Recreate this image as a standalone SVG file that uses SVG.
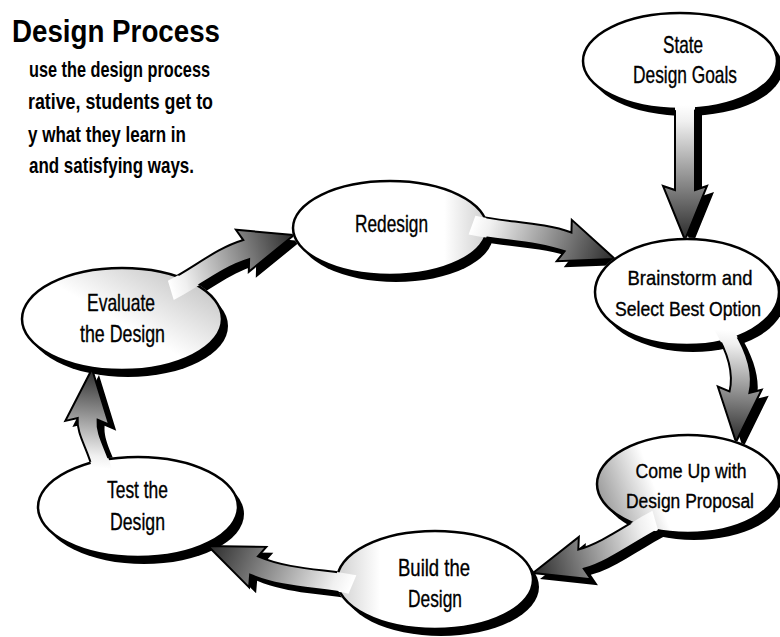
<svg xmlns="http://www.w3.org/2000/svg" xmlns:xlink="http://www.w3.org/1999/xlink" width="780" height="637" viewBox="0 0 780 637">
<style>
.title{font-family:"Liberation Sans Narrow","Liberation Sans",sans-serif;font-weight:bold;fill:#000}
.lbl{font-family:"Liberation Sans Narrow","Liberation Sans",sans-serif;font-size:24px;fill:#000;stroke:#000;stroke-width:0.35;text-anchor:middle}
.shadow{fill:#000}
.node{fill:#fff;stroke:#000;stroke-width:2.5}
.sh{fill:#000}
.ol{fill:none;stroke:#000;stroke-width:2;stroke-linejoin:miter}
</style>
<defs>
<linearGradient id="ag" x1="0" y1="0" x2="1" y2="0">
<stop offset="0" stop-color="#ffffff"/>
<stop offset="0.12" stop-color="#f0f0f0"/>
<stop offset="1" stop-color="#2a2a2a"/>
</linearGradient>
<linearGradient id="g-comeup" x1="0" y1="0.5" x2="1" y2="0.3">
<stop offset="0" stop-color="#a0a0a0"/>
<stop offset="0.3" stop-color="#ffffff"/>
</linearGradient>
<linearGradient id="g-build" x1="0" y1="0.5" x2="1" y2="0.5">
<stop offset="0" stop-color="#d0d0d0"/>
<stop offset="0.22" stop-color="#ffffff"/>
</linearGradient>
<linearGradient id="g-eval" x1="1" y1="0.2" x2="0.55" y2="0.6">
<stop offset="0" stop-color="#c4c4c4"/>
<stop offset="1" stop-color="#ffffff"/>
</linearGradient>
<linearGradient id="g-redesign" x1="1" y1="0.5" x2="0.78" y2="0.5">
<stop offset="0" stop-color="#cfcfcf"/>
<stop offset="1" stop-color="#ffffff"/>
</linearGradient>
<clipPath id="out-state"><path clip-rule="evenodd" d="M-20,-20H800V660H-20Z M581.8,61 a98.2,49.2 0 1,0 196.4,0 a98.2,49.2 0 1,0 -196.4,0Z"/></clipPath>
<clipPath id="out-brain"><path clip-rule="evenodd" d="M-20,-20H800V660H-20Z M593.8,292 a93.2,54.2 0 1,0 186.4,0 a93.2,54.2 0 1,0 -186.4,0Z"/></clipPath>
<clipPath id="out-redesign"><path clip-rule="evenodd" d="M-20,-20H800V660H-20Z M291.8,228 a98.2,48.2 0 1,0 196.4,0 a98.2,48.2 0 1,0 -196.4,0Z"/></clipPath>
<clipPath id="out-eval"><path clip-rule="evenodd" d="M-20,-20H800V660H-20Z M20.8,319 a101.2,52.2 0 1,0 202.4,0 a101.2,52.2 0 1,0 -202.4,0Z"/></clipPath>
<clipPath id="out-test"><path clip-rule="evenodd" d="M-20,-20H800V660H-20Z M36.8,507 a101.2,51.2 0 1,0 202.4,0 a101.2,51.2 0 1,0 -202.4,0Z"/></clipPath>
<clipPath id="out-comeup"><path clip-rule="evenodd" d="M-20,-20H800V660H-20Z M595.8,484 a92.2,50.2 0 1,0 184.4,0 a92.2,50.2 0 1,0 -184.4,0Z"/></clipPath>
<clipPath id="out-build"><path clip-rule="evenodd" d="M-20,-20H800V660H-20Z M335.8,580 a99.2,50.2 0 1,0 198.4,0 a99.2,50.2 0 1,0 -198.4,0Z"/></clipPath>
<path id="p1" transform="translate(685,240) rotate(90)" d="M-135,-10 L-50,-10 L-54,-22 L0,0 L-54,22 L-50,10 L-135,10Z"/>
<path id="p2" transform="translate(736,442) rotate(94)" d="M-111,10 C-90,-5 -68,-13 -50,-10 L-54,-22 L0,0 L-54,22 L-50,10 C-68,7 -90,15 -111,30Z"/>
<path id="p3" transform="translate(533,573) rotate(164)" d="M-132,7 C-100,0 -75,-10 -50,-10 L-54,-22 L0,0 L-54,22 L-50,10 C-75,10 -100,20 -132,27Z"/>
<path id="p4" transform="translate(208,546) rotate(-157)" d="M-148,11 C-118,5 -85,-10 -50,-10 L-54,-22 L0,0 L-54,22 L-50,10 C-85,10 -118,25 -148,31Z"/>
<path id="p5" transform="translate(92,369) rotate(-85)" d="M-98,8.6 C-79,2 -66,-10 -50,-10 L-54,-22 L0,0 L-54,22 L-50,10 C-66,10 -79,22 -98,28.6Z"/>
<path id="p6" transform="translate(294,235) rotate(-17)" d="M-134,7 C-105,2 -80,-10 -50,-10 L-54,-22 L0,0 L-54,22 L-50,10 C-80,10 -105,22 -134,27Z"/>
<path id="p7" transform="translate(615,259) rotate(20)" d="M-146,7 C-112,2 -80,-10 -50,-10 L-54,-22 L0,0 L-54,22 L-50,10 C-80,10 -112,22 -146,27Z"/>
</defs>
<rect width="780" height="637" fill="#fff"/>
<g id="heading">
<text class="title" x="12" y="42" font-size="32" textLength="208" lengthAdjust="spacingAndGlyphs">Design Process</text>
<text class="title" x="29" y="77" font-size="22" textLength="181" lengthAdjust="spacingAndGlyphs">use the design process</text>
<text class="title" x="28" y="109" font-size="22" textLength="185" lengthAdjust="spacingAndGlyphs">rative, students get to</text>
<text class="title" x="28" y="142" font-size="22" textLength="158" lengthAdjust="spacingAndGlyphs">y what they learn in</text>
<text class="title" x="29" y="173" font-size="22" textLength="165" lengthAdjust="spacingAndGlyphs">and satisfying ways.</text>
</g>
<g id="node-state">
<ellipse class="shadow" cx="686" cy="68" rx="97" ry="48"/>
<ellipse class="node" cx="680" cy="61" rx="97" ry="48"/>
<text class="lbl" x="683" y="53" textLength="40" lengthAdjust="spacingAndGlyphs">State</text>
<text class="lbl" x="685" y="83" textLength="104" lengthAdjust="spacingAndGlyphs">Design Goals</text>
</g>
<g id="node-brainstorm">
<ellipse class="shadow" cx="693" cy="299" rx="92" ry="53"/>
<ellipse class="node" cx="687" cy="292" rx="92" ry="53"/>
<text class="lbl" x="690" y="285" style="font-size:21px" textLength="125" lengthAdjust="spacingAndGlyphs">Brainstorm and</text>
<text class="lbl" x="688" y="316" style="font-size:20px" textLength="146" lengthAdjust="spacingAndGlyphs">Select Best Option</text>
</g>
<g id="node-comeup">
<ellipse class="shadow" cx="694" cy="491" rx="91" ry="49"/>
<ellipse class="node" cx="688" cy="484" rx="91" ry="49" style="fill:url(#g-comeup)"/>
<text class="lbl" x="691" y="478" style="font-size:21px" textLength="111" lengthAdjust="spacingAndGlyphs">Come Up with</text>
<text class="lbl" x="690" y="508" style="font-size:20px" textLength="128" lengthAdjust="spacingAndGlyphs">Design Proposal</text>
</g>
<g id="node-build">
<ellipse class="shadow" cx="441" cy="587" rx="98" ry="49"/>
<ellipse class="node" cx="435" cy="580" rx="98" ry="49" style="fill:url(#g-build)"/>
<text class="lbl" x="434" y="576" textLength="72" lengthAdjust="spacingAndGlyphs">Build the</text>
<text class="lbl" x="435" y="607" textLength="54" lengthAdjust="spacingAndGlyphs">Design</text>
</g>
<g id="node-test">
<ellipse class="shadow" cx="144" cy="514" rx="100" ry="50"/>
<ellipse class="node" cx="138" cy="507" rx="100" ry="50"/>
<text class="lbl" x="137.5" y="498" textLength="61" lengthAdjust="spacingAndGlyphs">Test the</text>
<text class="lbl" x="137.5" y="530" textLength="55" lengthAdjust="spacingAndGlyphs">Design</text>
</g>
<g id="node-evaluate">
<ellipse class="shadow" cx="128" cy="326" rx="100" ry="51"/>
<ellipse class="node" cx="122" cy="319" rx="100" ry="51" style="fill:url(#g-eval)"/>
<text class="lbl" x="121" y="311" textLength="68" lengthAdjust="spacingAndGlyphs">Evaluate</text>
<text class="lbl" x="122.5" y="342" textLength="85" lengthAdjust="spacingAndGlyphs">the Design</text>
</g>
<g id="node-redesign">
<ellipse class="shadow" cx="396" cy="235" rx="97" ry="47"/>
<ellipse class="node" cx="390" cy="228" rx="97" ry="47" style="fill:url(#g-redesign)"/>
<text class="lbl" x="391.5" y="232" textLength="73" lengthAdjust="spacingAndGlyphs">Redesign</text>
</g>
<g id="connectors">
<g id="arrow-state-brainstorm">
<g clip-path="url(#out-state)"><g clip-path="url(#out-brain)"><g transform="translate(7,6)"><use xlink:href="#p1" class="sh"/></g></g></g>
<g clip-path="url(#out-brain)"><use xlink:href="#p1" fill="url(#ag)"/></g>
<g clip-path="url(#out-state)"><g clip-path="url(#out-brain)"><use xlink:href="#p1" class="ol"/></g></g>
</g>
<g id="arrow-brainstorm-comeup">
<g clip-path="url(#out-brain)"><g clip-path="url(#out-comeup)"><g transform="translate(7,6)"><use xlink:href="#p2" class="sh"/></g></g></g>
<g clip-path="url(#out-comeup)"><use xlink:href="#p2" fill="url(#ag)"/></g>
<g clip-path="url(#out-brain)"><g clip-path="url(#out-comeup)"><use xlink:href="#p2" class="ol"/></g></g>
</g>
<g id="arrow-comeup-build">
<g clip-path="url(#out-comeup)"><g clip-path="url(#out-build)"><g transform="translate(7,6)"><use xlink:href="#p3" class="sh"/></g></g></g>
<g clip-path="url(#out-build)"><use xlink:href="#p3" fill="url(#ag)"/></g>
<g clip-path="url(#out-comeup)"><g clip-path="url(#out-build)"><use xlink:href="#p3" class="ol"/></g></g>
</g>
<g id="arrow-build-test">
<g clip-path="url(#out-build)"><g clip-path="url(#out-test)"><g transform="translate(7,6)"><use xlink:href="#p4" class="sh"/></g></g></g>
<g clip-path="url(#out-test)"><use xlink:href="#p4" fill="url(#ag)"/></g>
<g clip-path="url(#out-build)"><g clip-path="url(#out-test)"><use xlink:href="#p4" class="ol"/></g></g>
</g>
<g id="arrow-test-evaluate">
<g clip-path="url(#out-test)"><g clip-path="url(#out-eval)"><g transform="translate(7,6)"><use xlink:href="#p5" class="sh"/></g></g></g>
<g clip-path="url(#out-eval)"><use xlink:href="#p5" fill="url(#ag)"/></g>
<g clip-path="url(#out-test)"><g clip-path="url(#out-eval)"><use xlink:href="#p5" class="ol"/></g></g>
</g>
<g id="arrow-evaluate-redesign">
<g clip-path="url(#out-eval)"><g clip-path="url(#out-redesign)"><g transform="translate(7,6)"><use xlink:href="#p6" class="sh"/></g></g></g>
<g clip-path="url(#out-redesign)"><use xlink:href="#p6" fill="url(#ag)"/></g>
<g clip-path="url(#out-eval)"><g clip-path="url(#out-redesign)"><use xlink:href="#p6" class="ol"/></g></g>
</g>
<g id="arrow-redesign-brainstorm">
<g clip-path="url(#out-redesign)"><g clip-path="url(#out-brain)"><g transform="translate(7,6)"><use xlink:href="#p7" class="sh"/></g></g></g>
<g clip-path="url(#out-brain)"><use xlink:href="#p7" fill="url(#ag)"/></g>
<g clip-path="url(#out-redesign)"><g clip-path="url(#out-brain)"><use xlink:href="#p7" class="ol"/></g></g>
</g>
</g>
</svg>
